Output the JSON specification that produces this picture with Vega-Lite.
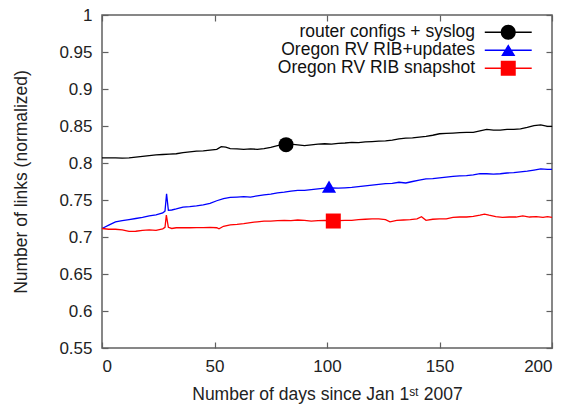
{
  "$schema": "https://vega.github.io/schema/vega-lite/v6.json",
  "width": 450,
  "height": 333,
  "autosize": "none",
  "padding": {"left": 102, "top": 15, "right": 17, "bottom": 56},
  "config": {
    "font": "Liberation Sans",
    "view": {"stroke": "#606060", "strokeWidth": 1.5},
    "axis": {
      "grid": false,
      "domain": false,
      "tickColor": "#606060",
      "tickSize": -6,
      "tickWidth": 1.2,
      "labelFont": "Liberation Sans",
      "labelFontSize": 17,
      "labelColor": "#222222",
      "titleFont": "Liberation Sans",
      "titleFontSize": 17.5,
      "titleFontWeight": "normal",
      "titleColor": "#222222"
    }
  },
  "datasets": {
    "black": [
      {"d":0,"v":0.807},{"d":3,"v":0.807},{"d":6,"v":0.807},{"d":9,"v":0.8065},{"d":12,"v":0.807},{"d":15,"v":0.808},{"d":18,"v":0.809},{"d":21,"v":0.81},{"d":24,"v":0.811},{"d":27,"v":0.8115},{"d":30,"v":0.812},{"d":33,"v":0.8125},{"d":36,"v":0.814},{"d":39,"v":0.815},{"d":42,"v":0.816},{"d":45,"v":0.8165},{"d":48,"v":0.8175},{"d":51,"v":0.8185},{"d":53,"v":0.822},{"d":55,"v":0.8215},{"d":57,"v":0.8195},{"d":60,"v":0.819},{"d":63,"v":0.8185},{"d":66,"v":0.819},{"d":69,"v":0.8185},{"d":72,"v":0.8195},{"d":75,"v":0.821},{"d":78,"v":0.8235},{"d":81,"v":0.825},{"d":84,"v":0.8255},{"d":87,"v":0.8245},{"d":90,"v":0.8235},{"d":93,"v":0.8245},{"d":96,"v":0.8255},{"d":99,"v":0.826},{"d":102,"v":0.8255},{"d":105,"v":0.8265},{"d":108,"v":0.827},{"d":111,"v":0.828},{"d":114,"v":0.8275},{"d":117,"v":0.8285},{"d":120,"v":0.829},{"d":123,"v":0.8295},{"d":126,"v":0.83},{"d":129,"v":0.831},{"d":132,"v":0.8325},{"d":135,"v":0.8335},{"d":138,"v":0.834},{"d":141,"v":0.835},{"d":144,"v":0.836},{"d":147,"v":0.8375},{"d":150,"v":0.8395},{"d":153,"v":0.84},{"d":156,"v":0.8405},{"d":159,"v":0.841},{"d":162,"v":0.8415},{"d":165,"v":0.8415},{"d":168,"v":0.8435},{"d":171,"v":0.8455},{"d":174,"v":0.8445},{"d":177,"v":0.8445},{"d":180,"v":0.8455},{"d":183,"v":0.8455},{"d":186,"v":0.846},{"d":189,"v":0.848},{"d":192,"v":0.8505},{"d":195,"v":0.8515},{"d":198,"v":0.8495},{"d":200,"v":0.8495}
    ],
    "blue": [
      {"d":0,"v":0.7115},{"d":3,"v":0.716},{"d":6,"v":0.7205},{"d":9,"v":0.722},{"d":12,"v":0.7235},{"d":15,"v":0.725},{"d":18,"v":0.7265},{"d":21,"v":0.7285},{"d":24,"v":0.73},{"d":27,"v":0.7325},{"d":28,"v":0.735},{"d":28.7,"v":0.7585},{"d":29.5,"v":0.736},{"d":31,"v":0.7365},{"d":33,"v":0.738},{"d":36,"v":0.7405},{"d":39,"v":0.741},{"d":42,"v":0.742},{"d":45,"v":0.7435},{"d":48,"v":0.7455},{"d":51,"v":0.749},{"d":54,"v":0.752},{"d":57,"v":0.7535},{"d":60,"v":0.754},{"d":63,"v":0.7545},{"d":66,"v":0.754},{"d":69,"v":0.7555},{"d":72,"v":0.757},{"d":75,"v":0.758},{"d":78,"v":0.7595},{"d":81,"v":0.7605},{"d":84,"v":0.762},{"d":87,"v":0.763},{"d":90,"v":0.763},{"d":93,"v":0.764},{"d":96,"v":0.765},{"d":99,"v":0.766},{"d":102,"v":0.7665},{"d":105,"v":0.766},{"d":108,"v":0.7665},{"d":111,"v":0.767},{"d":114,"v":0.768},{"d":117,"v":0.769},{"d":120,"v":0.77},{"d":123,"v":0.771},{"d":126,"v":0.772},{"d":129,"v":0.7725},{"d":132,"v":0.774},{"d":135,"v":0.773},{"d":138,"v":0.775},{"d":141,"v":0.777},{"d":144,"v":0.7785},{"d":147,"v":0.779},{"d":150,"v":0.78},{"d":153,"v":0.781},{"d":156,"v":0.782},{"d":159,"v":0.7825},{"d":162,"v":0.783},{"d":165,"v":0.784},{"d":168,"v":0.7855},{"d":171,"v":0.7855},{"d":174,"v":0.785},{"d":177,"v":0.7855},{"d":180,"v":0.7865},{"d":183,"v":0.787},{"d":186,"v":0.788},{"d":189,"v":0.789},{"d":192,"v":0.7905},{"d":195,"v":0.792},{"d":198,"v":0.7915},{"d":200,"v":0.7915}
    ],
    "red": [
      {"d":0,"v":0.7115},{"d":3,"v":0.7105},{"d":6,"v":0.7105},{"d":9,"v":0.7095},{"d":12,"v":0.7075},{"d":15,"v":0.7078},{"d":18,"v":0.709},{"d":21,"v":0.7095},{"d":24,"v":0.709},{"d":27,"v":0.711},{"d":28,"v":0.713},{"d":28.6,"v":0.7295},{"d":29.5,"v":0.713},{"d":31,"v":0.7115},{"d":33,"v":0.7125},{"d":36,"v":0.7125},{"d":39,"v":0.7125},{"d":42,"v":0.7128},{"d":45,"v":0.7128},{"d":48,"v":0.713},{"d":51,"v":0.7125},{"d":52,"v":0.711},{"d":54,"v":0.7145},{"d":57,"v":0.7165},{"d":60,"v":0.717},{"d":63,"v":0.718},{"d":66,"v":0.7195},{"d":69,"v":0.7205},{"d":72,"v":0.7215},{"d":75,"v":0.7215},{"d":78,"v":0.722},{"d":81,"v":0.7225},{"d":84,"v":0.722},{"d":87,"v":0.723},{"d":90,"v":0.7225},{"d":93,"v":0.7215},{"d":96,"v":0.722},{"d":99,"v":0.7225},{"d":102,"v":0.722},{"d":105,"v":0.722},{"d":108,"v":0.7225},{"d":111,"v":0.7225},{"d":114,"v":0.7235},{"d":117,"v":0.724},{"d":120,"v":0.7245},{"d":123,"v":0.7245},{"d":126,"v":0.7235},{"d":128,"v":0.7205},{"d":131,"v":0.7225},{"d":134,"v":0.723},{"d":137,"v":0.7235},{"d":140,"v":0.7245},{"d":142,"v":0.7275},{"d":144,"v":0.7225},{"d":147,"v":0.724},{"d":150,"v":0.7245},{"d":153,"v":0.7245},{"d":156,"v":0.7265},{"d":159,"v":0.727},{"d":162,"v":0.727},{"d":165,"v":0.728},{"d":168,"v":0.7295},{"d":170,"v":0.731},{"d":172,"v":0.7295},{"d":175,"v":0.7275},{"d":178,"v":0.7265},{"d":181,"v":0.727},{"d":184,"v":0.727},{"d":187,"v":0.7285},{"d":190,"v":0.727},{"d":193,"v":0.7275},{"d":196,"v":0.7265},{"d":198,"v":0.7275},{"d":200,"v":0.7265}
    ],
    "markers": [
      {"s":"router configs + syslog","d":81.8,"v":0.8248},
      {"s":"Oregon RV RIB+updates","d":100.9,"v":0.768},
      {"s":"Oregon RV RIB snapshot","d":102.8,"v":0.7216}
    ]
  },
  "layer": [
    {
      "data": {"name": "black"},
      "mark": {"type": "line", "color": "#000000", "strokeWidth": 1.3},
      "encoding": {
        "x": {"field": "d", "type": "quantitative", "scale": {"domain": [0, 200], "nice": false}, "axis": {"values": [0, 50, 100, 150, 200], "labelPadding": 16, "title": "Number of days since Jan 1ˢᵗ 2007", "titlePadding": 11}},
        "y": {"field": "v", "type": "quantitative", "scale": {"domain": [0.55, 1], "nice": false, "zero": false}, "axis": {"values": [0.55, 0.6, 0.65, 0.7, 0.75, 0.8, 0.85, 0.9, 0.95, 1], "format": ".2~f", "labelPadding": 16, "title": "Number of links (normalized)", "titlePadding": 28}}
      }
    },
    {
      "data": {"name": "blue"},
      "mark": {"type": "line", "color": "#0000ff", "strokeWidth": 1.3},
      "encoding": {
        "x": {"field": "d", "type": "quantitative", "axis": null},
        "y": {"field": "v", "type": "quantitative", "axis": null}
      }
    },
    {
      "data": {"name": "red"},
      "mark": {"type": "line", "color": "#ff0000", "strokeWidth": 1.3},
      "encoding": {
        "x": {"field": "d", "type": "quantitative", "axis": null},
        "y": {"field": "v", "type": "quantitative", "axis": null}
      }
    },
    {
      "data": {"name": "markers"},
      "transform": [{"filter": "datum.d < 0"}],
      "mark": {"type": "point", "filled": true, "opacity": 1, "size": 225},
      "encoding": {
        "x": {"field": "d", "type": "quantitative", "axis": {"orient": "top", "values": [0, 50, 100, 150, 200], "labels": false, "title": null}},
        "y": {"field": "v", "type": "quantitative", "axis": {"orient": "right", "values": [0.55, 0.6, 0.65, 0.7, 0.75, 0.8, 0.85, 0.9, 0.95, 1], "labels": false, "title": null}},
        "color": {
          "field": "s", "type": "nominal",
          "scale": {"domain": ["router configs + syslog", "Oregon RV RIB+updates", "Oregon RV RIB snapshot"], "range": ["#000000", "#0000ff", "#ff0000"]},
          "legend": {
            "orient": "none", "legendX": 397.5, "legendY": 8.5, "title": null,
            "symbolSize": 225, "labelAlign": "right", "labelOffset": -42,
            "labelFont": "Liberation Sans", "labelFontSize": 17.5, "labelColor": "#111111",
            "rowPadding": -5, "padding": 0, "labelLimit": 400,
            "symbolOpacity": 1,
            "symbolStrokeWidth": 0
          }
        },
        "shape": {
          "field": "s", "type": "nominal",
          "scale": {"domain": ["router configs + syslog", "Oregon RV RIB+updates", "Oregon RV RIB snapshot"], "range": ["M-3.13,-0.087H3.13V0.087H-3.13ZM1,0A1,1 0 1,1 -1,0A1,1 0 1,1 1,0Z", "M-3.13,-0.087H3.13V0.087H-3.13ZM0,-0.8L0.95,0.75L-0.95,0.75Z", "M-3.13,-0.087H3.13V0.087H-3.13ZM-1,-1H1V1H-1Z"]}
        }
      }
    },
    {
      "data": {"name": "markers"},
      "transform": [{"filter": "datum.s === 'router configs + syslog'"}],
      "mark": {"type": "point", "filled": true, "opacity": 1, "size": 225, "shape": "circle", "color": "#000000"},
      "encoding": {
        "x": {"field": "d", "type": "quantitative", "axis": null},
        "y": {"field": "v", "type": "quantitative", "axis": null}
      }
    },
    {
      "data": {"name": "markers"},
      "transform": [{"filter": "datum.s === 'Oregon RV RIB+updates'"}],
      "mark": {"type": "point", "filled": true, "opacity": 1, "size": 200, "shape": "triangle-up", "color": "#0000ff"},
      "encoding": {
        "x": {"field": "d", "type": "quantitative", "axis": null},
        "y": {"field": "v", "type": "quantitative", "axis": null}
      }
    },
    {
      "data": {"name": "markers"},
      "transform": [{"filter": "datum.s === 'Oregon RV RIB snapshot'"}],
      "mark": {"type": "point", "filled": true, "opacity": 1, "size": 225, "shape": "square", "color": "#ff0000"},
      "encoding": {
        "x": {"field": "d", "type": "quantitative", "axis": null},
        "y": {"field": "v", "type": "quantitative", "axis": null}
      }
    }
  ],
  "resolve": {"axis": {"x": "independent", "y": "independent"}}
}
